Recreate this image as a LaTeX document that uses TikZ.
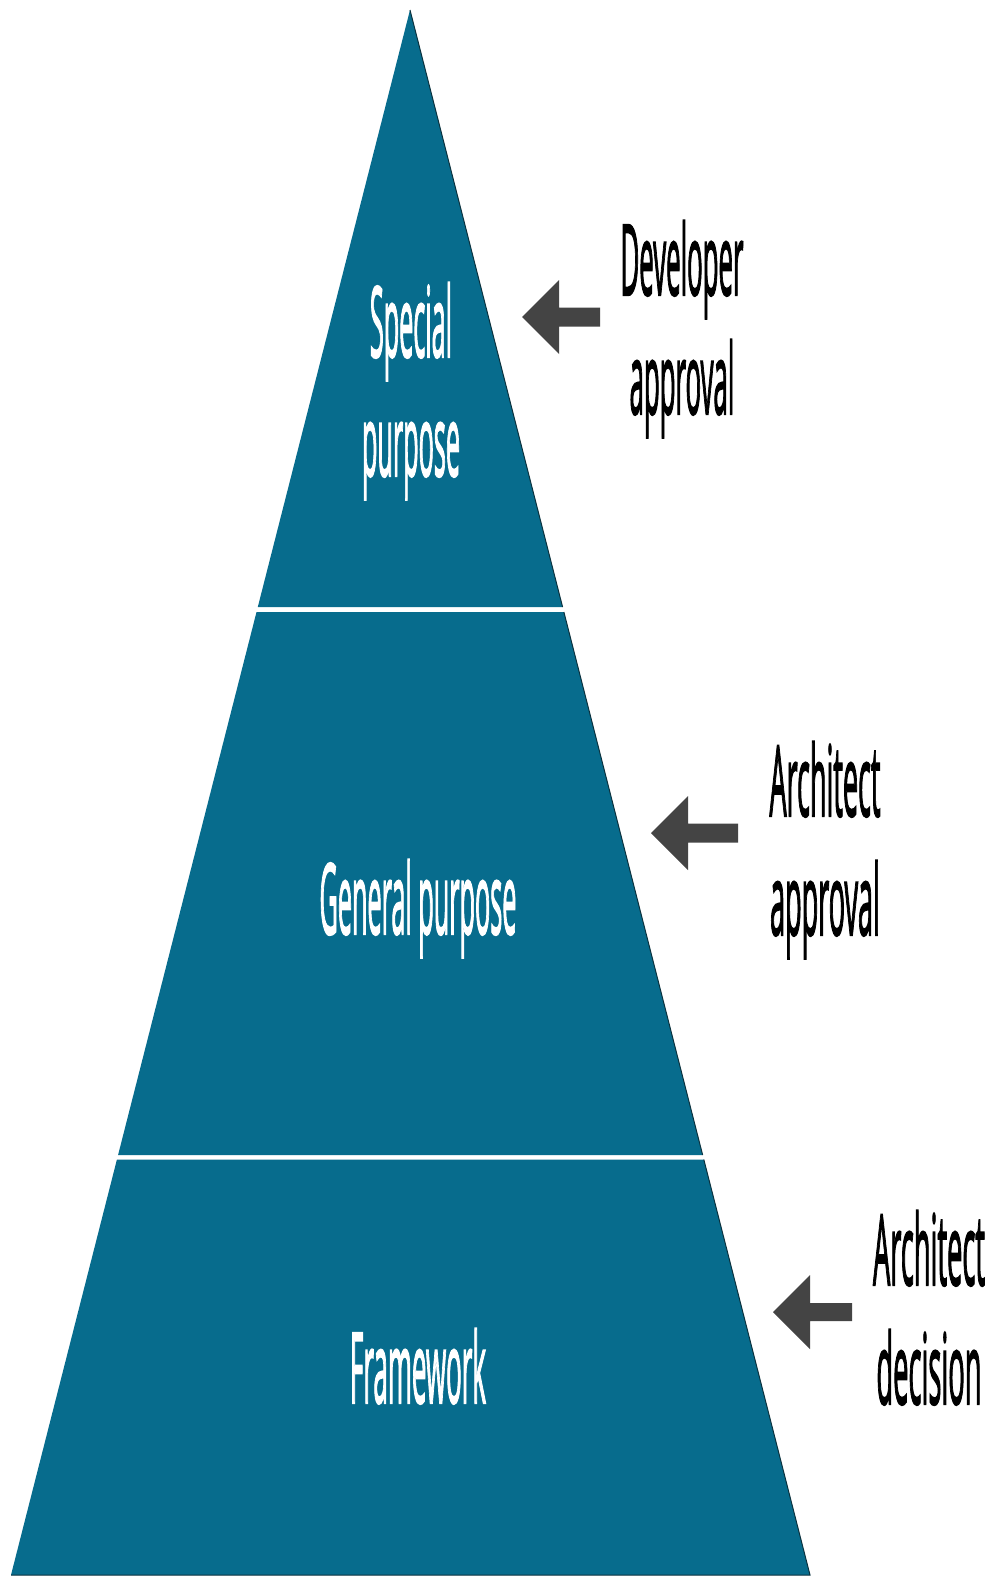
\documentclass[tikz,border=0pt]{standalone}
\usepackage{fontspec}
\setmainfont{Open Sans}
\newfontfamily\labelfont{Open Sans}[FakeBold=2.5]
\usepackage{graphicx}
\usetikzlibrary{calc}
\definecolor{pyr}{RGB}{7,108,141}
\definecolor{pyredge}{RGB}{12,50,62}
\definecolor{arrgrey}{RGB}{68,68,68}
\newcommand\condtxt[2]{\resizebox{#1}{\height}{\begin{tabular}[t]{@{}c@{}}#2\end{tabular}}}
\begin{document}
\begin{tikzpicture}[x=1pt,y=-1pt,
  lbl/.style={inner sep=0pt, anchor=base, font=\labelfont\fontsize{98}{119}\selectfont},
  inlbl/.style={lbl, text=white},
  section/.style={fill=pyr},
  sedge/.style={draw=pyredge, line width=1pt},
  blockarrow/.style={fill=arrgrey}]
\fill[white] (0,0) rectangle (992,1577);
\useasboundingbox (0,0) rectangle (992,1577);
\coordinate (apex) at (410,10);
\coordinate (bl) at (11,1575);
\coordinate (br) at (810,1575);
% section boundaries
\coordinate (l1) at ($(apex)!0.38147!(bl)$);
\coordinate (r1) at ($(apex)!0.38147!(br)$);
\coordinate (l2) at ($(apex)!0.38466!(bl)$);
\coordinate (r2) at ($(apex)!0.38466!(br)$);
\coordinate (l3) at ($(apex)!0.73163!(bl)$);
\coordinate (r3) at ($(apex)!0.73163!(br)$);
\coordinate (l4) at ($(apex)!0.73450!(bl)$);
\coordinate (r4) at ($(apex)!0.73450!(br)$);
% sections
\fill[section] (apex) -- (r1) -- (l1) -- cycle;
\fill[section] (l2) -- (r2) -- (r3) -- (l3) -- cycle;
\fill[section] (l4) -- (r4) -- (br) -- (bl) -- cycle;
\draw[sedge] (apex) -- (r1);
\draw[sedge] (r2) -- (r3);
\draw[sedge] (r4) -- (br) -- (bl);
% labels inside
\node[inlbl] (special) at (411,357) {\condtxt{98pt}{Special\\purpose}};
\node[inlbl] (general) at (418,934) {\condtxt{197pt}{General purpose}};
\node[inlbl] (framework) at (418,1403) {\condtxt{136pt}{Framework}};
% labels right
\node[lbl] (developer) at (682,295) {\condtxt{123pt}{Developer\\approval}};
\node[lbl] (archapp) at (825,816) {\condtxt{111pt}{Architect\\approval}};
\node[lbl] (archdec) at (929,1285) {\condtxt{112pt}{Architect\\decision}};
% block arrows
\fill[blockarrow] (522,317) -- (559,280) -- (559,307.5) -- (600,307.5) -- (600,326.5) -- (559,326.5) -- (559,354) -- cycle;
\fill[blockarrow] (651,833) -- (688,796) -- (688,823.5) -- (738,823.5) -- (738,842.5) -- (688,842.5) -- (688,870) -- cycle;
\fill[blockarrow] (773,1312) -- (810,1275) -- (810,1303) -- (852,1303) -- (852,1321) -- (810,1321) -- (810,1349) -- cycle;
\end{tikzpicture}
\end{document}
